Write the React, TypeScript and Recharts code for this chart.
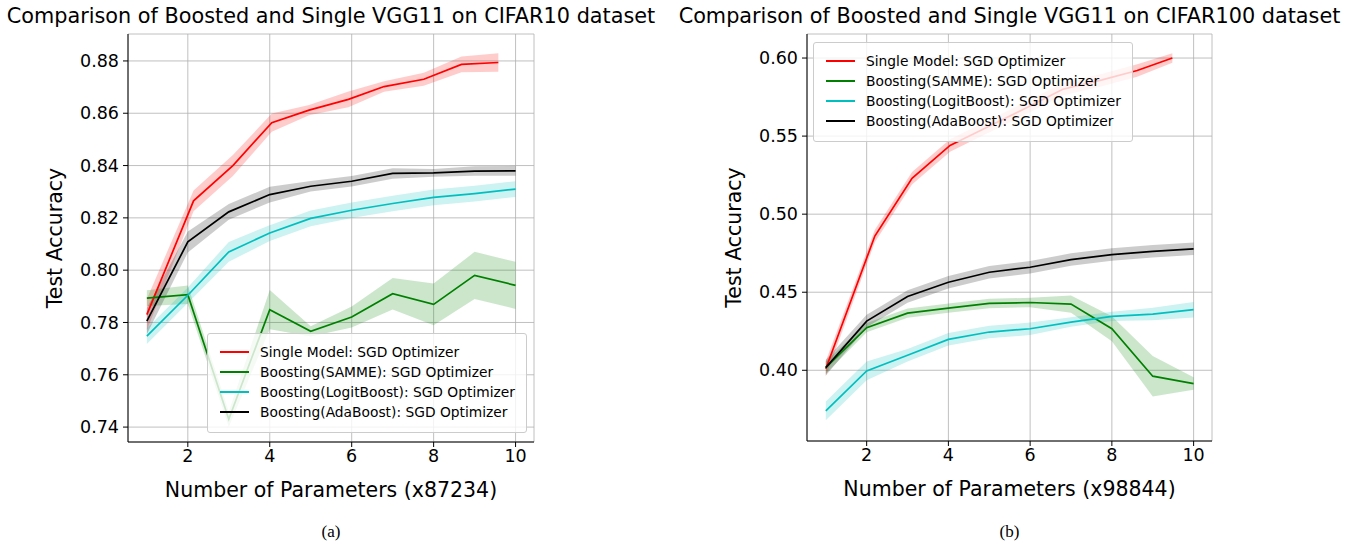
import React from 'react';
import { ComposedChart, Line, Area, XAxis, YAxis, CartesianGrid } from 'recharts';

// x positions (multiples of the base parameter count)
const boostX = [1, 2, 3, 4, 5, 6, 7, 8, 9, 10];
const singleX10 = [1, 2.14, 3.1, 4.05, 4.96, 5.92, 6.79, 7.76, 8.68, 9.58];
const singleX100 = [1, 2.2, 3.11, 4.04, 4.97, 5.9, 6.8, 7.76, 8.62, 9.48];

// CIFAR10 panel
const single10 = [0.783, 0.8265, 0.84, 0.8564, 0.8612, 0.8653, 0.8702, 0.873, 0.8787, 0.8794];
const single10Std = [0.006, 0.004, 0.004, 0.0035, 0.002, 0.003, 0.002, 0.0025, 0.003, 0.0035];
const samme10 = [0.7893, 0.7906, 0.743, 0.7849, 0.7766, 0.7821, 0.791, 0.7869, 0.798, 0.7942];
const samme10Std = [0.003, 0.0035, 0.003, 0.0075, 0.002, 0.004, 0.006, 0.008, 0.009, 0.009];
const logit10 = [0.7748, 0.7904, 0.807, 0.8142, 0.8198, 0.8229, 0.8255, 0.8278, 0.8293, 0.831];
const logit10Std = [0.003, 0.003, 0.0038, 0.003, 0.003, 0.003, 0.003, 0.003, 0.003, 0.003];
const ada10 = [0.7805, 0.8108, 0.8223, 0.8289, 0.8321, 0.834, 0.837, 0.8372, 0.8379, 0.838];
const ada10Std = [0.005, 0.004, 0.003, 0.003, 0.002, 0.002, 0.002, 0.0015, 0.0018, 0.0019];

// CIFAR100 panel
const single100 = [0.401, 0.486, 0.523, 0.544, 0.556, 0.568, 0.58, 0.586, 0.592, 0.6];
const single100Std = [0.005, 0.004, 0.004, 0.004, 0.004, 0.004, 0.004, 0.004, 0.004, 0.003];
const samme100 = [0.4017, 0.4273, 0.4366, 0.4398, 0.4428, 0.4434, 0.4424, 0.4266, 0.3962, 0.3915];
const samme100Std = [0.004, 0.003, 0.003, 0.003, 0.003, 0.003, 0.0055, 0.008, 0.013, 0.004];
const logit100 = [0.374, 0.3996, 0.4096, 0.4198, 0.4245, 0.4266, 0.4309, 0.4345, 0.436, 0.4388];
const logit100Std = [0.006, 0.006, 0.004, 0.004, 0.004, 0.004, 0.003, 0.003, 0.004, 0.005];
const ada100 = [0.4017, 0.4315, 0.4473, 0.4564, 0.4628, 0.466, 0.4709, 0.4741, 0.4762, 0.4778];
const ada100Std = [0.005, 0.004, 0.004, 0.004, 0.004, 0.004, 0.004, 0.004, 0.004, 0.004];

const seriesNames = [
  'Single Model: SGD Optimizer',
  'Boosting(SAMME): SGD Optimizer',
  'Boosting(LogitBoost): SGD Optimizer',
  'Boosting(AdaBoost): SGD Optimizer',
];
const seriesColors = ['#ff0000', '#008000', '#00bfbf', '#000000'];

const xTicks = [2, 4, 6, 8, 10];
const yTicks10 = [0.74, 0.76, 0.78, 0.8, 0.82, 0.84, 0.86, 0.88];
const yTicks100 = [0.4, 0.45, 0.5, 0.55, 0.6];

const rows = (xs: number[], mean: number[], std: number[]) =>
  xs.map((x, i) => ({ x, y: mean[i], band: [mean[i] - std[i], mean[i] + std[i]] }));

const FONT = '"DejaVu Sans", sans-serif';

interface PanelProps {
  left: number;
  title: string;
  xLabel: string;
  caption: string;
  yDomain: [number, number];
  yTicks: number[];
  series: { x: number; y: number; band: number[] }[][];
  margin: { top: number; right: number; bottom: number; left: number };
  legend: { left: number; top: number };
}

const Panel: React.FC<PanelProps> = ({ left, title, xLabel, caption, yDomain, yTicks, series, margin, legend }) => {
  const tickStyle = { fontSize: 17.5, fontFamily: FONT, fill: '#000' };
  const labelStyle = { fontSize: 20.5, fontFamily: FONT, fill: '#000' };
  const plotCenter = margin.left + 85 + (680 - margin.left - 85 - margin.right) / 2;
  return (
    <div style={{ position: 'absolute', left, top: 0, width: 680, height: 546 }}>
      <div
        style={{
          position: 'absolute',
          left: plotCenter,
          top: 3,
          transform: 'translateX(-50%)',
          whiteSpace: 'nowrap',
          fontFamily: FONT,
          fontSize: 20.8,
          lineHeight: '26px',
          color: '#000',
        }}
      >
        {title}
      </div>
      <ComposedChart width={680} height={546} margin={margin}>
        <CartesianGrid stroke="#b0b0b0" strokeWidth={0.8} />
        <XAxis
          type="number"
          dataKey="x"
          domain={[0.54, 10.45]}
          ticks={xTicks}
          allowDataOverflow
          height={58}
          tickSize={5}
          tickMargin={3}
          stroke="#000"
          tick={tickStyle}
          label={{ value: xLabel, position: 'insideBottom', offset: 3, style: labelStyle }}
        />
        <XAxis xAxisId="top" orientation="top" type="number" domain={[0.54, 10.45]} height={0} tick={false} tickLine={false} stroke="#000" />
        <YAxis
          type="number"
          domain={yDomain}
          ticks={yTicks}
          allowDataOverflow
          width={85}
          tickSize={5}
          tickMargin={4}
          stroke="#000"
          tick={tickStyle}
          tickFormatter={(v: number) => v.toFixed(2)}
          label={{ value: 'Test Accuracy', angle: -90, position: 'insideLeft', offset: 12, style: { ...labelStyle, textAnchor: 'middle' } }}
        />
        <YAxis yAxisId="right" orientation="right" domain={yDomain} width={0} tick={false} tickLine={false} stroke="#000" />
        {series.map((d, i) => (
          <Area
            key={'band' + i}
            data={d}
            dataKey="band"
            type="linear"
            stroke="none"
            fill={seriesColors[i]}
            fillOpacity={0.2}
            dot={false}
            activeDot={false}
            isAnimationActive={false}
          />
        ))}
        {series.map((d, i) => (
          <Line
            key={'line' + i}
            data={d}
            dataKey="y"
            type="linear"
            stroke={seriesColors[i]}
            strokeWidth={1.7}
            dot={false}
            activeDot={false}
            isAnimationActive={false}
          />
        ))}
      </ComposedChart>
      <div
        style={{
          position: 'absolute',
          left: legend.left,
          top: legend.top,
          width: 320,
          height: 100,
          boxSizing: 'border-box',
          background: 'rgba(255,255,255,0.8)',
          border: '1px solid #cccccc',
          borderRadius: 3,
          padding: '8px 0 0 12px',
        }}
      >
        {seriesNames.map((name, i) => (
          <div key={name} style={{ display: 'flex', alignItems: 'center', height: 20 }}>
            <div style={{ width: 29, height: 0, borderTop: `2px solid ${seriesColors[i]}`, marginRight: 11 }} />
            <span style={{ fontFamily: FONT, fontSize: 13.8, color: '#000', whiteSpace: 'nowrap' }}>{name}</span>
          </div>
        ))}
      </div>
      <div
        style={{
          position: 'absolute',
          left: plotCenter,
          top: 522,
          transform: 'translateX(-50%)',
          fontFamily: '"Liberation Serif", "Times New Roman", serif',
          fontSize: 17,
          color: '#000',
        }}
      >
        {caption}
      </div>
    </div>
  );
};

export default function App() {
  const cifar10 = [
    rows(singleX10, single10, single10Std),
    rows(boostX, samme10, samme10Std),
    rows(boostX, logit10, logit10Std),
    rows(boostX, ada10, ada10Std),
  ];
  const cifar100 = [
    rows(singleX100, single100, single100Std),
    rows(boostX, samme100, samme100Std),
    rows(boostX, logit100, logit100Std),
    rows(boostX, ada100, ada100Std),
  ];
  return (
    <div style={{ position: 'absolute', left: 0, top: 0, width: 1360, height: 546, background: '#fff' }}>
      <Panel
        left={0}
        title="Comparison of Boosted and Single VGG11 on CIFAR10 dataset"
        xLabel="Number of Parameters (x87234)"
        caption="(a)"
        yDomain={[0.7343, 0.8903]}
        yTicks={yTicks10}
        series={cifar10}
        margin={{ top: 34, right: 146, bottom: 46, left: 43 }}
        legend={{ left: 207, top: 333 }}
      />
      <Panel
        left={680}
        title="Comparison of Boosted and Single VGG11 on CIFAR100 dataset"
        xLabel="Number of Parameters (x98844)"
        caption="(b)"
        yDomain={[0.3547, 0.6154]}
        yTicks={yTicks100}
        series={cifar100}
        margin={{ top: 34, right: 148, bottom: 47, left: 42 }}
        legend={{ left: 133, top: 42 }}
      />
    </div>
  );
}
